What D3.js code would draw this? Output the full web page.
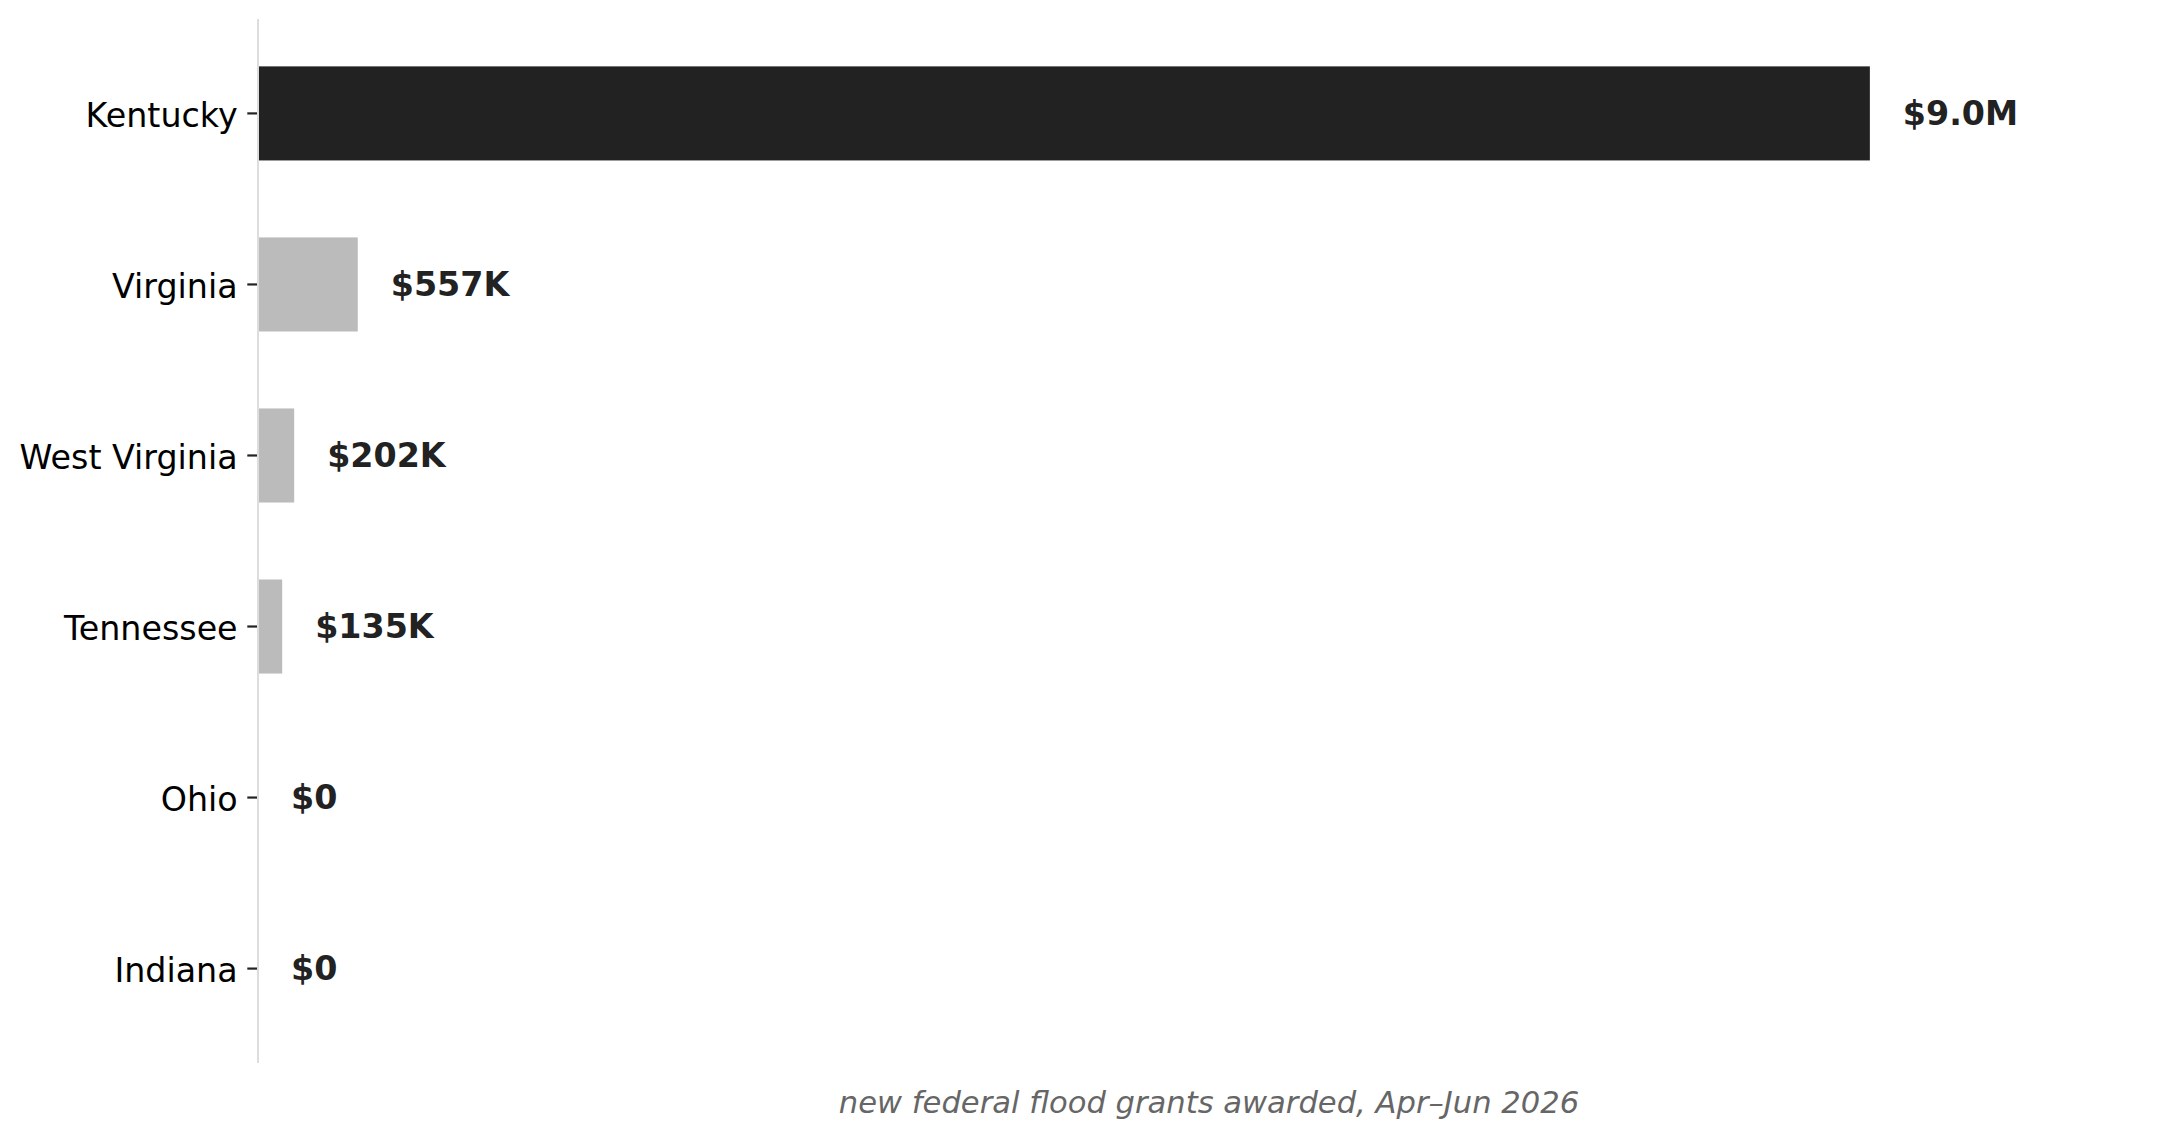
<html>
  <head>
    <title>Federal flood grants</title>
    <script type="text/javascript" src="https://cdn.jsdelivr.net/npm/d3@7"></script>
    <style>
      body { margin: 0; background: white; }
    </style>
    <script type="text/javascript">
      var states = ["Kentucky", "Virginia", "West Virginia", "Tennessee", "Ohio", "Indiana"];
      var grants = [9.0e6, 557e3, 202e3, 135e3, 0, 0];
      var highlight = "Kentucky";
      var axisTitle = "new federal flood grants awarded, Apr\u2013Jun 2026";

      function ready(fn) {
        if (document.readyState != 'loading'){ fn() }
        else { document.addEventListener('DOMContentLoaded', fn) }
      }
      ready(function() {
        drawChart();
      });

      function money(v) {
        if (v >= 1e6) return "$" + (v / 1e6).toFixed(1) + "M";
        if (v >= 1e3) return "$" + Math.round(v / 1e3) + "K";
        return "$" + Math.round(v);
      }

      function drawChart() {
        var svg = d3.select("#chart"),
            width = +svg.attr("width"),
            height = +svg.attr("height");
        var left = 258, right = 2160, top = 19, bottom = 1063;

        svg.append("rect")
          .attr("width", width)
          .attr("height", height)
          .attr("fill", "white");

        var data = states.map(function(s, i) { return {state: s, value: grants[i]}; });

        var x = d3.scaleLinear()
            .domain([0, d3.max(grants) * 1.18])
            .range([left, right]);

        var y = d3.scaleBand()
            .domain(states)
            .range([top, bottom])
            .paddingInner(0.45)
            .paddingOuter(0.277);

        // bars
        svg.append("g")
          .selectAll("rect")
          .data(data)
          .enter().append("rect")
            .attr("x", x(0))
            .attr("y", function(d) { return y(d.state); })
            .attr("width", function(d) { return x(d.value) - x(0); })
            .attr("height", y.bandwidth())
            .attr("fill", function(d) { return d.state == highlight ? "#222222" : "#bbbbbb"; });

        // left spine
        svg.append("line")
          .attr("x1", left).attr("x2", left)
          .attr("y1", top).attr("y2", bottom)
          .attr("stroke", "#dddddd")
          .attr("stroke-width", 2);

        // y axis ticks + labels
        var yAxis = svg.append("g")
          .attr("transform", "translate(" + (left - 1) + ",0)")
          .call(d3.axisLeft(y).tickSize(9.7).tickPadding(9.7));
        yAxis.select(".domain").remove();
        yAxis.selectAll(".tick line").attr("stroke", "#222").attr("stroke-width", 2.2);
        yAxis.selectAll(".tick text")
          .attr("fill", "#000")
          .attr("dy", "0.4em")
          .style("font-family", "'DejaVu Sans', sans-serif")
          .style("font-size", "33.3px");

        // value labels
        svg.append("g")
          .selectAll("text")
          .data(data)
          .enter().append("text")
            .attr("x", function(d) { return x(d.value) + 33; })
            .attr("y", function(d) { return y(d.state) + y.bandwidth() / 2; })
            .attr("dy", "0.35em")
            .attr("fill", "#222222")
            .style("font-family", "'DejaVu Sans', sans-serif")
            .style("font-weight", "bold")
            .style("font-size", "33.3px")
            .text(function(d) { return money(d.value); });

        // axis title
        svg.append("text")
          .attr("x", (left + right) / 2)
          .attr("y", 1113)
          .attr("text-anchor", "middle")
          .attr("fill", "#666666")
          .style("font-family", "'DejaVu Sans', sans-serif")
          .style("font-style", "italic")
          .style("font-size", "30.6px")
          .text(axisTitle);
      }
    </script>
  </head>
  <body>
    <svg width="2179" height="1139" id="chart"></svg>
  </body>
</html>
